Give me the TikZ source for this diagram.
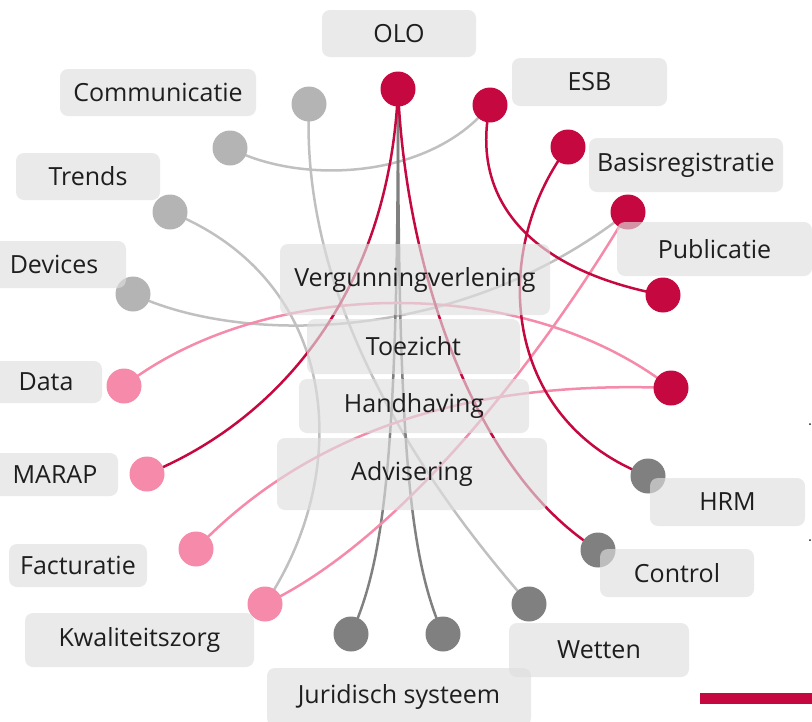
\documentclass[tikz,border=0pt]{standalone}
\usepackage{fontspec}
\setmainfont{Open Sans}
\usetikzlibrary{backgrounds}
\pgfdeclarelayer{lines}
\pgfdeclarelayer{front}
\pgfsetlayers{lines,main,front}
\definecolor{cred}{RGB}{197,8,64}
\definecolor{cpink}{RGB}{245,138,170}
\definecolor{clgray}{RGB}{180,180,180}
\definecolor{clline}{RGB}{192,192,192}
\definecolor{cdgray}{RGB}{128,128,128}
\definecolor{cbox}{RGB}{222,222,222}
\definecolor{ctext}{RGB}{30,30,30}
\tikzset{
  dot/.style={circle,minimum size=35pt,inner sep=0pt,draw=none},
  reddot/.style={dot,fill=cred},
  pinkdot/.style={dot,fill=cpink},
  lgdot/.style={dot,fill=clgray},
  dgdot/.style={dot,fill=cdgray},
  lbl/.style={rounded corners=8pt,fill=cbox,fill opacity=0.65,text opacity=1,
    text=ctext,inner sep=0pt,font=\fontsize{25}{30}\selectfont},
  link/.style={line width=2.5pt},
  redline/.style={link,draw=cred},
  pinkline/.style={link,draw=cpink},
  lgline/.style={link,draw=clline},
  dgline/.style={link,draw=cdgray}
}
\begin{document}
\begin{tikzpicture}[x=1pt,y=-1pt]
\useasboundingbox (0,0) rectangle (812,721);
% circles
\node[reddot] (olo) at (398,89) {};
\node[reddot] (esb) at (490,105) {};
\node[lgdot] (com1) at (309,104) {};
\node[lgdot] (com2) at (230,148) {};
\node[reddot] (bas) at (568,147) {};
\node[reddot] (pub) at (628,212) {};
\node[lgdot] (tre) at (170,212) {};
\node[lgdot] (dev) at (133,294) {};
\node[reddot] (ra) at (663,295) {};
\node[pinkdot] (dat) at (124,386) {};
\node[reddot] (rb) at (671,388) {};
\node[pinkdot] (mar) at (147,474) {};
\node[dgdot] (hrm) at (648,476) {};
\node[pinkdot] (fac) at (196,549) {};
\node[dgdot] (con) at (598,550) {};
\node[pinkdot] (kwa) at (265,604) {};
\node[dgdot] (jur1) at (351,634) {};
\node[dgdot] (jur2) at (443,634) {};
\node[dgdot] (wet) at (529,604) {};
% connectors
\begin{pgfonlayer}{lines}
\draw[lgline] (com2.center) .. controls (300,185) and (430,180) .. (esb.center);
\draw[lgline] (com1.center) .. controls (300,300) and (420,480) .. (wet.center);
\draw[lgline] (tre.center) .. controls (340,280) and (355,470) .. (kwa.center);
\draw[lgline] (dev.center) .. controls (240,345) and (460,345) .. (pub.center);
\draw[dgline] (olo.center) .. controls (398,450) and (385,560) .. (jur1.center);
\draw[dgline] (olo.center) .. controls (398,450) and (410,560) .. (jur2.center);
\draw[pinkline] (dat.center) .. controls (260,280) and (520,270) .. (rb.center);
\draw[pinkline] (fac.center) .. controls (310,430) and (470,380) .. (rb.center);
\draw[pinkline] (kwa.center) .. controls (400,540) and (540,360) .. (pub.center);
\draw[redline] (olo.center) .. controls (390,290) and (280,420) .. (mar.center);
\draw[redline] (olo.center) .. controls (405,260) and (470,470) .. (con.center);
\draw[redline] (esb.center) .. controls (470,200) and (530,270) .. (ra.center);
\draw[redline] (bas.center) .. controls (490,250) and (500,420) .. (hrm.center);
\end{pgfonlayer}
% labels
\begin{pgfonlayer}{front}
\node[lbl,minimum width=154pt,minimum height=47pt] (tolo) at (399,33.5) {OLO};
\node[lbl,minimum width=196pt,minimum height=47pt] (tcom) at (158,92.5) {Communicatie};
\node[lbl,minimum width=155pt,minimum height=48pt] (tesb) at (589.5,82) {ESB};
\node[lbl,minimum width=144pt,minimum height=47pt] (ttre) at (88,176.5) {Trends};
\node[lbl,minimum width=194pt,minimum height=54pt] (tbas) at (686,165) {Basisregistratie};
\node[lbl,minimum width=195pt,minimum height=54pt] (tpub) at (714.5,249) {Publicatie};
\node[lbl,minimum width=144pt,minimum height=47pt] (tdev) at (54,264.5) {Devices};
\node[lbl,minimum width=270pt,minimum height=71pt] (tver) at (415,279.5) {Vergunningverlening};
\node[lbl,minimum width=213pt,minimum height=55pt] (ttoe) at (413.5,346.5) {Toezicht};
\node[lbl,minimum width=230pt,minimum height=54pt] (than) at (414,406) {Handhaving};
\node[lbl,minimum width=270pt,minimum height=72pt] (tadv) at (412,474) {Advisering};
\node[lbl,minimum width=112pt,minimum height=42pt] (tdat) at (46,382) {Data};
\node[lbl,minimum width=126pt,minimum height=43pt] (tmar) at (55,474.5) {MARAP};
\node[lbl,minimum width=138pt,minimum height=43pt] (tfac) at (78,565.5) {Facturatie};
\node[lbl,minimum width=229pt,minimum height=54pt] (tkwa) at (139.5,640) {Kwaliteitszorg};
\node[lbl,minimum width=264pt,minimum height=58pt] (tjur) at (399,697) {Juridisch systeem};
\node[lbl,minimum width=180pt,minimum height=54pt] (twet) at (599,650) {Wetten};
\node[lbl,minimum width=155pt,minimum height=48pt] (thrm) at (727.5,502) {HRM};
\node[lbl,minimum width=154pt,minimum height=48pt] (tcon) at (677,573) {Control};
\end{pgfonlayer}
% decorations
\fill[cred] (700,693) rectangle (812,704);
\fill[ctext] (810,424) circle (1pt);
\fill[ctext] (810,540) circle (1pt);
\end{tikzpicture}
\end{document}
